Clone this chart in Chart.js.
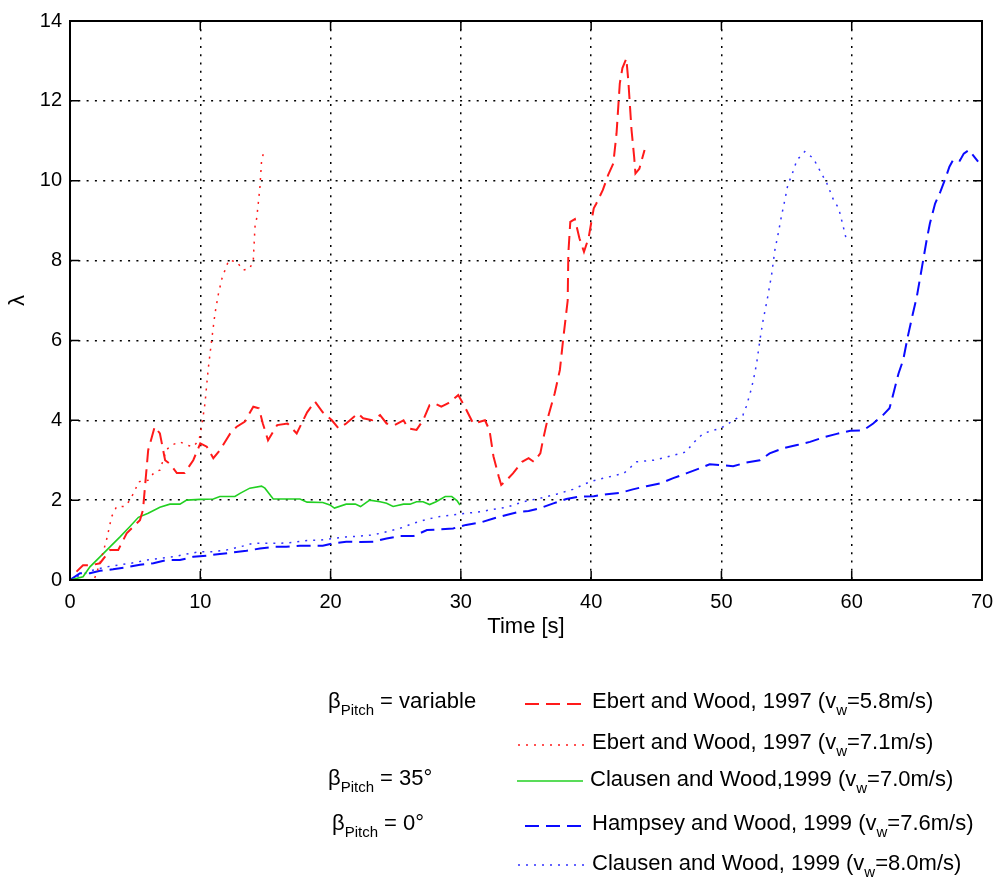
<!DOCTYPE html>
<html>
<head>
<meta charset="utf-8">
<script src="https://cdn.jsdelivr.net/npm/chart.js@4/dist/chart.umd.min.js"></script>
<style>
  html, body { margin: 0; padding: 0; background: #fff; }
  #wrap { width: 995px; height: 877px; }
</style>
</head>
<body>
<div id="wrap"><canvas id="lambdaChart" width="995" height="877"></canvas></div>
<script>
// Ebert and Wood, 1997 (vw = 5.8 m/s)
const ebert58X = [0.5, 1.0, 1.6, 2.3, 3.07, 3.7, 4.35, 5.37, 5.6, 6.0, 6.5, 6.9, 7.3, 7.7, 8.2, 8.8, 9.46, 10.0, 10.5, 11.0,
  11.5, 12.3, 12.8, 13.4, 14.07, 14.5, 14.8, 15.2, 15.9, 16.7, 17.4, 18.2, 18.8, 19.4, 20.1, 20.6, 21.2, 22.1, 22.5, 23.2,
  23.8, 24.3, 24.9, 25.6, 25.95, 26.6, 27.1, 27.6, 28.0, 28.5, 29.0, 29.8, 30.3, 30.95, 31.85, 32.2, 32.5, 32.9, 33.1, 33.5,
  34.0, 34.7, 35.2, 35.6, 36.1, 36.3, 36.7, 37.2, 37.6, 37.86, 38.2, 38.25, 38.4, 38.75, 39.1, 39.45, 39.8, 40.2, 40.4, 40.9,
  41.3, 41.7, 41.95, 42.2, 42.4, 42.7, 42.85, 43.1, 43.3, 43.4, 43.7, 44.1];
const ebert58Y = [0.21, 0.37, 0.37, 0.42, 0.75, 0.75, 1.17, 1.5, 1.75, 3.25, 3.84, 3.67, 3.0, 2.9, 2.68, 2.68, 3.0, 3.42, 3.34, 3.05,
  3.25, 3.67, 3.84, 3.96, 4.34, 4.3, 3.92, 3.5, 3.88, 3.92, 3.67, 4.2, 4.47, 4.2, 4.0, 3.8, 3.92, 4.17, 4.05, 4.0,
  4.13, 3.92, 3.88, 4.0, 3.8, 3.76, 4.0, 4.38, 4.42, 4.34, 4.42, 4.63, 4.34, 3.92, 4.0, 3.75, 3.1, 2.6, 2.38, 2.5,
  2.67, 2.96, 3.05, 2.96, 3.17, 3.5, 4.09, 4.67, 5.26, 6.05, 7.0, 8.18, 8.97, 9.04, 8.56, 8.22, 8.56, 9.31, 9.43, 9.77,
  10.14, 10.43, 11.19, 12.44, 12.82, 13.06, 12.52, 11.27, 10.6, 10.18, 10.3, 10.77];

// Ebert and Wood, 1997 (vw = 7.1 m/s)
const ebert71X = [1.9, 2.3, 2.8, 3.2, 3.58, 4.2, 4.6, 5.0, 5.25, 6.0, 6.5, 6.9, 7.4, 7.8, 8.44, 8.95, 9.46, 9.9, 10.1, 10.36,
  10.6, 10.87, 11.13, 11.4, 11.55, 11.7, 11.95, 12.18, 12.8, 13.3, 13.8, 14.07, 14.1, 14.2, 14.33, 14.45, 14.58, 14.7, 14.84];
const ebert71Y = [0.05, 0.42, 1.0, 1.59, 1.84, 1.84, 2.0, 2.25, 2.46, 2.5, 2.71, 2.75, 3.26, 3.38, 3.46, 3.38, 3.34, 3.5, 3.84, 4.42,
  5.26, 6.0, 6.68, 7.18, 7.39, 7.6, 7.8, 8.01, 7.97, 7.76, 7.8, 8.01, 8.22, 8.85, 9.06, 9.43, 9.85, 10.48, 10.68];

// Clausen and Wood, 1999 (vw = 7.0 m/s)
const clausen70X = [0, 1.0, 1.53, 2.3, 3.07, 3.84, 4.6, 5.25, 6.0, 6.9, 7.67, 8.44, 8.95, 10.0, 11.0, 11.5, 12.66, 13.05, 13.8, 14.7,
  14.96, 15.6, 16.6, 17.65, 18.2, 19.4, 19.95, 20.3, 21.2, 21.9, 22.3, 23.0, 23.8, 24.3, 24.8, 25.6, 26.1, 26.6, 27.1, 27.6,
  28.1, 28.8, 29.3, 29.7, 29.93];
const clausen70Y = [0, 0.08, 0.33, 0.58, 0.83, 1.08, 1.34, 1.57, 1.67, 1.82, 1.9, 1.9, 2.0, 2.02, 2.03, 2.09, 2.09, 2.17, 2.3, 2.35,
  2.3, 2.03, 2.03, 2.03, 1.95, 1.94, 1.88, 1.8, 1.9, 1.9, 1.84, 2.0, 1.96, 1.92, 1.84, 1.9, 1.9, 1.96, 1.96, 1.89,
  1.96, 2.09, 2.09, 1.99, 1.88];

// Hampsey and Wood, 1999 (vw = 7.6 m/s)
const hampseyX = [0, 0.77, 1.53, 2.3, 3.3, 4.35, 5.37, 6.4, 7.4, 8.44, 9.46, 10.5, 11.5, 12.5, 13.55, 14.58, 15.6, 16.6, 17.65, 18.7,
  19.4, 20.2, 21.2, 22.3, 23.3, 24.3, 25.3, 26.35, 27.4, 28.4, 29.4, 30.4, 31.5, 32.5, 33.5, 34.5, 35.2, 36.1, 37.1, 38.1,
  39.1, 40.2, 41.2, 42.2, 43.2, 44.25, 45.3, 46.3, 47.3, 48.35, 49.1, 49.9, 50.9, 51.9, 52.95, 53.7, 54.75, 55.8, 56.8, 57.8,
  58.85, 59.9, 60.9, 61.65, 62.4, 62.9, 63.2, 63.6, 63.95, 64.3, 64.7, 65.0, 65.4, 65.75, 66.0, 66.4, 66.8, 67.15, 67.5, 67.8,
  68.3, 68.6, 69.0, 69.7];
const hampseyY = [0, 0.17, 0.17, 0.23, 0.27, 0.32, 0.38, 0.42, 0.5, 0.5, 0.58, 0.61, 0.65, 0.69, 0.73, 0.79, 0.83, 0.83, 0.86, 0.86,
  0.86, 0.92, 0.96, 0.95, 0.96, 1.04, 1.1, 1.1, 1.25, 1.27, 1.29, 1.38, 1.44, 1.54, 1.63, 1.71, 1.73, 1.8, 1.92, 2.03,
  2.09, 2.1, 2.15, 2.18, 2.27, 2.35, 2.42, 2.55, 2.67, 2.8, 2.9, 2.88, 2.85, 2.94, 3.0, 3.17, 3.3, 3.38, 3.46, 3.57,
  3.66, 3.74, 3.75, 3.92, 4.13, 4.3, 4.67, 5.18, 5.51, 6.09, 6.68, 7.1, 7.85, 8.51, 8.93, 9.43, 9.72, 10.02, 10.35, 10.53,
  10.5, 10.68, 10.77, 10.48];

// Clausen and Wood, 1999 (vw = 8.0 m/s)
const clausen80X = [0, 0.77, 1.8, 2.8, 3.84, 4.86, 5.9, 6.9, 7.9, 8.95, 10.0, 11.0, 12.0, 13.05, 14.07, 15.1, 16.1, 17.1, 18.2, 19.2,
  20.2, 21.2, 22.3, 23.3, 24.3, 25.3, 26.35, 27.4, 28.4, 29.4, 30.4, 31.5, 32.5, 33.5, 34.8, 36.1, 37.35, 38.6, 39.9, 41.2,
  42.5, 43.5, 44.8, 46.05, 47.3, 47.8, 48.6, 49.9, 50.4, 50.9, 51.65, 51.9, 52.2, 52.45, 52.7, 52.95, 53.2, 53.5, 53.85, 54.1,
  54.36, 54.6, 54.87, 55.1, 55.4, 55.8, 56.4, 57.05, 57.55, 58.1, 58.6, 59.0, 59.35, 59.6];
const clausen80Y = [0, 0.12, 0.25, 0.33, 0.38, 0.43, 0.5, 0.54, 0.58, 0.65, 0.71, 0.71, 0.75, 0.83, 0.92, 0.92, 0.92, 0.94, 0.99, 1.0,
  1.04, 1.08, 1.1, 1.13, 1.21, 1.29, 1.42, 1.52, 1.59, 1.63, 1.67, 1.71, 1.77, 1.82, 1.96, 2.05, 2.15, 2.27, 2.46, 2.57,
  2.67, 2.96, 3.0, 3.1, 3.21, 3.42, 3.67, 3.8, 3.88, 4.0, 4.13, 4.34, 4.67, 5.0, 5.42, 6.0, 6.51, 7.0, 7.64, 8.26,
  8.68, 9.1, 9.52, 9.9, 10.14, 10.52, 10.73, 10.56, 10.26, 9.93, 9.52, 9.31, 8.85, 8.51];

// legend texts: [main, subscript, rest]
const seriesLabels = [
  ["Ebert and Wood, 1997 (v", "w", "=5.8m/s)"],
  ["Ebert and Wood, 1997 (v", "w", "=7.1m/s)"],
  ["Clausen and Wood,1999 (v", "w", "=7.0m/s)"],
  ["Hampsey and Wood, 1999 (v", "w", "=7.6m/s)"],
  ["Clausen and Wood, 1999 (v", "w", "=8.0m/s)"],
];
const groupLabels = [
  ["\u03b2", "Pitch", " = variable"],
  ["\u03b2", "Pitch", " = 35\u00b0"],
  ["\u03b2", "Pitch", " = 0\u00b0"],
];

const FONT = "'Liberation Sans', Arial, Helvetica, sans-serif";

function pts(xs, ys) {
  return xs.map((x, i) => ({ x: x, y: ys[i] }));
}

function line(label, xs, ys, color, dash, width) {
  return {
    label: label,
    data: pts(xs, ys),
    borderColor: color,
    borderDash: dash,
    borderWidth: width,
    borderCapStyle: "butt",
    pointRadius: 0,
    fill: false,
    tension: 0,
  };
}

// text with a subscript part
function drawSubText(ctx, parts, x, y) {
  ctx.textAlign = "left";
  ctx.textBaseline = "alphabetic";
  ctx.font = "22px " + FONT;
  ctx.fillText(parts[0], x, y);
  x += ctx.measureText(parts[0]).width;
  ctx.font = "15px " + FONT;
  ctx.fillText(parts[1], x, y + 7);
  x += ctx.measureText(parts[1]).width;
  ctx.font = "22px " + FONT;
  ctx.fillText(parts[2], x, y);
}

// MATLAB style box with inward ticks
const boxPlugin = {
  id: "boxTicks",
  afterDraw(chart) {
    const { ctx, chartArea: a, scales } = chart;
    ctx.save();
    ctx.strokeStyle = "#000";
    ctx.lineWidth = 1.5;
    ctx.setLineDash([]);
    ctx.beginPath();
    scales.x.ticks.forEach((t) => {
      const px = scales.x.getPixelForValue(t.value);
      ctx.moveTo(px, a.bottom);
      ctx.lineTo(px, a.bottom - 9);
      ctx.moveTo(px, a.top);
      ctx.lineTo(px, a.top + 9);
    });
    scales.y.ticks.forEach((t) => {
      const py = scales.y.getPixelForValue(t.value);
      ctx.moveTo(a.left, py);
      ctx.lineTo(a.left + 9, py);
      ctx.moveTo(a.right, py);
      ctx.lineTo(a.right - 9, py);
    });
    ctx.stroke();
    ctx.lineWidth = 2;
    ctx.strokeRect(a.left, a.top, a.right - a.left, a.bottom - a.top);
    ctx.restore();
  },
};

const legendRows = [
  { ds: 0, x0: 525, x1: 585, ly: 704, tx: 592, ty: 708 },
  { ds: 1, x0: 518, x1: 585, ly: 745, tx: 592, ty: 749 },
  { ds: 2, x0: 517, x1: 583, ly: 781, tx: 590, ty: 786 },
  { ds: 3, x0: 525, x1: 585, ly: 826, tx: 592, ty: 830 },
  { ds: 4, x0: 518, x1: 585, ly: 865, tx: 592, ty: 870 },
];
const groupPos = [
  { x: 328, y: 708 },
  { x: 328, y: 785 },
  { x: 332, y: 830 },
];

const legendPlugin = {
  id: "bottomLegend",
  afterDraw(chart) {
    const ctx = chart.ctx;
    ctx.save();
    ctx.fillStyle = "#000";
    legendRows.forEach((r, i) => {
      const ds = chart.data.datasets[r.ds];
      ctx.save();
      ctx.strokeStyle = ds.borderColor;
      ctx.lineWidth = ds.borderWidth;
      ctx.setLineDash(ds.borderDash || []);
      ctx.beginPath();
      ctx.moveTo(r.x0, r.ly);
      ctx.lineTo(r.x1, r.ly);
      ctx.stroke();
      ctx.restore();
      drawSubText(ctx, seriesLabels[i], r.tx, r.ty);
    });
    groupLabels.forEach((g, i) => {
      drawSubText(ctx, g, groupPos[i].x, groupPos[i].y);
    });
    ctx.restore();
  },
};

const RED = "#ff1a1a";
const GREEN = "#22d022";
const BLUE = "#0a0aff";

new Chart(document.getElementById("lambdaChart"), {
  type: "scatter",
  data: {
    datasets: [
      line(seriesLabels[0].join(""), ebert58X, ebert58Y, RED, [14, 7], 2),
      line(seriesLabels[1].join(""), ebert71X, ebert71Y, RED, [2, 6], 1.5),
      line(seriesLabels[2].join(""), clausen70X, clausen70Y, GREEN, [], 1.6),
      line(seriesLabels[3].join(""), hampseyX, hampseyY, BLUE, [14, 7], 2),
      line(seriesLabels[4].join(""), clausen80X, clausen80Y, "#3030ff", [2, 6], 1.5),
    ],
  },
  options: {
    responsive: false,
    animation: false,
    showLine: true,
    layout: { padding: { top: 21, right: 13, bottom: 237, left: 0 } },
    plugins: {
      legend: { display: false },
      tooltip: { enabled: false },
    },
    scales: {
      x: {
        type: "linear",
        min: 0,
        max: 70,
        ticks: { stepSize: 10, padding: 10, color: "#000", font: { family: FONT, size: 20 } },
        grid: { color: "#000", lineWidth: 1.5, drawTicks: false },
        border: { display: false, dash: [2, 6.3] },
        title: {
          display: true,
          text: "Time [s]",
          color: "#000",
          font: { family: FONT, size: 22 },
          padding: 0,
        },
        afterFit(scale) {
          scale.height = 60;
          scale.paddingLeft = 0;
          scale.paddingRight = 0;
        },
      },
      y: {
        type: "linear",
        min: 0,
        max: 14,
        ticks: { stepSize: 2, padding: 8, color: "#000", font: { family: FONT, size: 20 } },
        grid: { color: "#000", lineWidth: 1.5, drawTicks: false },
        border: { display: false, dash: [2, 6.3] },
        title: {
          display: true,
          text: "\u03bb",
          color: "#000",
          font: { family: FONT, size: 22 },
          padding: { top: 5, bottom: 0 },
        },
        afterFit(scale) {
          scale.width = 70;
        },
      },
    },
  },
  plugins: [boxPlugin, legendPlugin],
});
</script>
</body>
</html>
